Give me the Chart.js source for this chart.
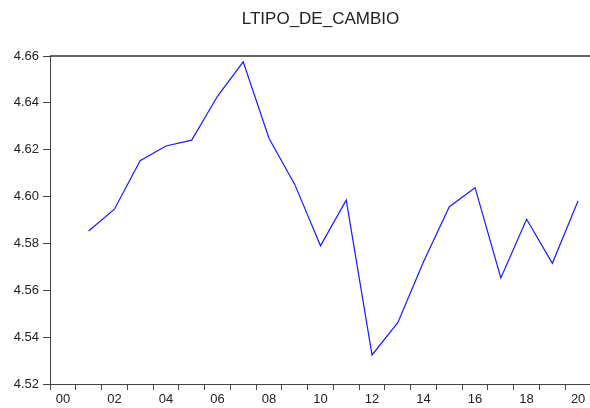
<!DOCTYPE html>
<html>
<head>
<meta charset="utf-8">
<script src="https://cdn.jsdelivr.net/npm/chart.js@4/dist/chart.umd.min.js"></script>
<style>
  html, body { margin: 0; padding: 0; background: #fff; overflow: hidden; width: 590px; height: 408px; }
  canvas { display: block; }
</style>
</head>
<body>
<canvas id="c" width="600" height="408"></canvas>
<script>
const categories = ['00','01','02','03','04','05','06','07','08','09','10','11','12','13','14','15','16','17','18','19','20'];
const values = [null, 4.5853, 4.5946, 4.6153, 4.6216, 4.6241, 4.6428, 4.6575, 4.6249, 4.6052, 4.5790, 4.5985, 4.5324, 4.5462, 4.5722, 4.5957, 4.6038, 4.5653, 4.5903, 4.5715, 4.5982];
const yTicks = [4.52, 4.54, 4.56, 4.58, 4.60, 4.62, 4.64, 4.66];
const titleText = 'LTIPO_DE_CAMBIO';

const frame = {
  id: 'frame',
  afterDraw(chart) {
    const {ctx, chartArea: a} = chart;
    ctx.save();
    ctx.strokeStyle = '#333';
    ctx.lineWidth = 1.5;
    ctx.beginPath();
    ctx.moveTo(a.left, a.top);
    ctx.lineTo(a.right, a.top);
    ctx.lineTo(a.right, a.bottom);
    ctx.stroke();
    ctx.restore();
  }
};

new Chart(document.getElementById('c'), {
  type: 'line',
  data: {
    labels: categories,
    datasets: [{
      data: values,
      borderColor: '#1a1aff',
      borderWidth: 1.2,
      pointRadius: 0,
      tension: 0,
      fill: false
    }]
  },
  options: {
    responsive: false,
    animation: false,
    devicePixelRatio: 1,
    layout: { padding: { left: 0, right: 9, top: 0, bottom: 0 } },
    plugins: {
      legend: { display: false },
      tooltip: { enabled: false },
      title: {
        display: true,
        text: titleText,
        fullSize: false,
        color: '#222',
        font: { family: 'Liberation Sans, Arial, sans-serif', size: 17, weight: 'normal', lineHeight: 1.2 },
        padding: { top: 9, bottom: 26.6 }
      }
    },
    scales: {
      x: {
        type: 'category',
        offset: true,
        grid: { offset: true, drawOnChartArea: false, drawTicks: true, tickLength: 6, color: '#444' },
        border: { display: true, color: '#444', width: 1 },
        ticks: {
          autoSkip: false, maxRotation: 0, minRotation: 0, padding: 2,
          color: '#222',
          font: { family: 'Liberation Sans, Arial, sans-serif', size: 13 },
          callback: (v, i) => (i % 2 === 0 ? categories[i] : '')
        },
        afterFit(scale) { scale.height = 24; }
      },
      y: {
        min: 4.52,
        max: 4.66,
        afterBuildTicks(scale) { scale.ticks = yTicks.map(v => ({ value: v })); },
        grid: { drawOnChartArea: false, drawTicks: true, tickLength: 7, color: '#444' },
        border: { display: true, color: '#444', width: 1 },
        ticks: {
          padding: 4,
          color: '#222',
          font: { family: 'Liberation Sans, Arial, sans-serif', size: 13 },
          callback: v => Number(v).toFixed(2)
        },
        afterFit(scale) { scale.width = 50; }
      }
    }
  },
  plugins: [frame]
});
</script>
</body>
</html>
